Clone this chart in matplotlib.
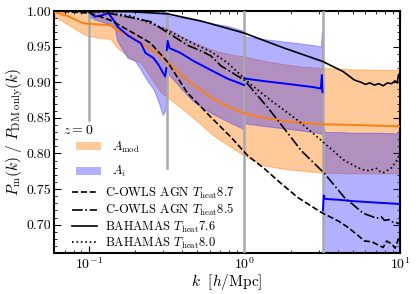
import numpy as np
import matplotlib
matplotlib.use("Agg")
import matplotlib.pyplot as plt
from matplotlib.patches import Patch
from matplotlib.lines import Line2D
from matplotlib.ticker import FormatStrFormatter, MultipleLocator

plt.rcParams['font.family'] = 'serif'
plt.rcParams['font.serif'] = ['cmr10']
plt.rcParams['mathtext.fontset'] = 'cm'
plt.rcParams['axes.formatter.use_mathtext'] = True
plt.rcParams['axes.linewidth'] = 1.5

# --- A_mod band (orange), continuous in k
k_mod = [0.06, 0.075, 0.092, 0.1, 0.119, 0.138, 0.152, 0.175, 0.194, 0.216, 0.25, 0.29,
         0.32, 0.372, 0.43, 0.526, 0.61, 0.71, 0.82, 1.0, 1.34, 1.72, 2.3, 3.2, 5.0, 10.0]
mod_mid = [0.999, 0.992, 0.983, 0.982, 0.981, 0.980, 0.973, 0.967, 0.962, 0.956, 0.946, 0.938,
           0.929, 0.915, 0.903, 0.889, 0.879, 0.870, 0.864, 0.856, 0.850, 0.846, 0.843, 0.841, 0.840, 0.838]
mod_lo = [0.993, 0.980, 0.968, 0.965, 0.962, 0.961, 0.949, 0.938, 0.931, 0.928, 0.907, 0.886,
          0.879, 0.868, 0.857, 0.841, 0.828, 0.818, 0.809, 0.797, 0.783, 0.779, 0.776, 0.773, 0.772, 0.772]
mod_hi = [1.0, 1.0, 1.0, 1.0, 0.999, 0.998, 0.995, 0.992, 0.990, 0.987, 0.982, 0.978,
          0.976, 0.968, 0.960, 0.952, 0.946, 0.942, 0.939, 0.936, 0.930, 0.926, 0.922, 0.920, 0.918, 0.917]

# --- A_i band (blue), one piece per k-bin
kA = [0.100, 0.110, 0.122, 0.134, 0.147, 0.153, 0.178, 0.197, 0.216, 0.232, 0.261, 0.282, 0.299, 0.310, 0.316]
A_mid = [0.999, 0.992, 0.994, 0.997, 0.985, 0.978, 0.966, 0.960, 0.955, 0.941, 0.934, 0.924, 0.914, 0.908, 0.920]
A_lo = [0.993, 0.988, 0.985, 0.982, 0.976, 0.958, 0.934, 0.931, 0.918, 0.906, 0.890, 0.872, 0.854, 0.860, 0.873]
A_hi = [1.005] * len(kA)

kB = [0.318, 0.322, 0.33, 0.39, 0.47, 0.61, 0.78, 1.0]
B_mid = [0.945, 0.958, 0.948, 0.941, 0.930, 0.917, 0.905, 0.896]
B_lo = [0.916, 0.914, 0.910, 0.892, 0.873, 0.857, 0.845, 0.834]
B_hi = [0.995, 0.994, 0.993, 0.991, 0.988, 0.983, 0.979, 0.972]

kC = [1.0, 1.02, 1.4, 2.0, 2.8, 3.1, 3.15, 3.18]
C_mid = [0.906, 0.905, 0.901, 0.897, 0.893, 0.891, 0.910, 0.886]
C_lo = [0.842, 0.842, 0.838, 0.834, 0.830, 0.828, 0.830, 0.826]
C_hi = [0.965, 0.964, 0.960, 0.956, 0.952, 0.950, 0.972, 0.950]

kD = [3.2, 3.24, 3.28, 3.35, 4.0, 5.0, 7.0, 10.0]
D_mid = [0.720, 0.741, 0.737, 0.736, 0.735, 0.733, 0.731, 0.729]
D_lo = [0.60] * len(kD)
D_hi = [0.828, 0.836, 0.830, 0.830, 0.830, 0.829, 0.829, 0.828]

# --- simulations
k_c87 = [0.06, 0.1026, 0.138, 0.194, 0.25, 0.32, 0.431, 0.61, 0.82, 1.05, 1.34, 1.72, 2.21, 3.13,
         3.63, 4.1, 4.64, 5.3, 5.92, 6.6, 7.29, 7.8, 8.21, 8.84, 9.3, 9.77, 10.0]
p_c87 = [1.0, 0.997, 0.987, 0.969, 0.955, 0.929, 0.885, 0.851, 0.823, 0.797, 0.779, 0.758, 0.738, 0.717,
         0.710, 0.704, 0.696, 0.686, 0.677, 0.676, 0.671, 0.668, 0.677, 0.673, 0.667, 0.680, 0.672]
k_c85 = [0.06, 0.119, 0.197, 0.25, 0.32, 0.431, 0.526, 0.61, 0.708, 1.0, 1.42, 1.91, 2.32, 3.27,
         4.4, 5.0, 5.8, 6.5, 7.08, 7.6, 7.94, 8.5, 8.84, 9.4, 10.0]
p_c85 = [1.0, 0.999, 0.990, 0.985, 0.970, 0.952, 0.944, 0.937, 0.923, 0.903, 0.864, 0.828, 0.804, 0.772,
         0.738, 0.728, 0.716, 0.712, 0.709, 0.711, 0.706, 0.707, 0.704, 0.703, 0.701]
k_b76 = [0.06, 0.1, 0.186, 0.32, 0.526, 1.0, 1.8, 3.2, 4.31, 5.1, 5.6, 6.0, 6.4, 6.87, 7.3, 7.8,
         8.3, 8.84, 9.3, 9.6, 9.81, 10.0]
p_b76 = [1.0, 0.9995, 0.999, 0.996, 0.986, 0.969, 0.948, 0.929, 0.915, 0.903, 0.900, 0.897, 0.899,
         0.896, 0.898, 0.895, 0.899, 0.898, 0.902, 0.899, 0.911, 0.906]
k_b80 = [0.06, 0.119, 0.186, 0.25, 0.32, 0.474, 0.61, 0.782, 1.10, 1.49, 2.22, 3.13, 4.40, 5.26,
         5.8, 6.28, 7.08, 7.5, 7.85, 8.4, 8.84, 9.51, 10.0]
p_b80 = [1.0, 0.999, 0.993, 0.983, 0.973, 0.954, 0.943, 0.927, 0.897, 0.874, 0.846, 0.818, 0.790, 0.781,
         0.777, 0.776, 0.779, 0.774, 0.773, 0.777, 0.780, 0.790, 0.800]

k_edges = [0.1, 0.318, 1.0, 3.2]
edge_ymin = [0.55, 0.35, 0.0, 0.0]   # first two lines stop above the legend

orange = '#ff7f0e'
fig = plt.figure(figsize=(4.16, 2.94), dpi=100)
ax = fig.add_axes([0.130, 0.139, 0.8315, 0.8236])

ax.fill_between(k_mod, mod_lo, mod_hi, color=orange, alpha=0.42, lw=0.8, zorder=1)
ax.plot(k_mod, mod_mid, color=orange, lw=1.4, zorder=4)

for kk, lo, hi, mid in [(kA, A_lo, A_hi, A_mid), (kB, B_lo, B_hi, B_mid),
                        (kC, C_lo, C_hi, C_mid), (kD, D_lo, D_hi, D_mid)]:
    ax.fill_between(kk, lo, hi, color='#3333ff', alpha=0.38, lw=0.8, zorder=2)
    ax.plot(kk, mid, color='#0000ff', lw=1.4, zorder=4)

for ke, ym in zip(k_edges, edge_ymin):
    ax.axvline(ke, ymin=ym, color='#aaaaaa', lw=1.8, zorder=3)

ax.plot(k_c87, p_c87, 'k--', lw=1.2, zorder=5)
ax.plot(k_c85, p_c85, 'k-.', lw=1.2, zorder=5)
ax.plot(k_b76, p_b76, 'k-', lw=1.2, zorder=5)
ax.plot(k_b80, p_b80, 'k:', lw=1.2, zorder=5)

ax.set_xscale('log')
ax.set_xlim(0.06, 10)
ax.set_ylim(0.66, 1.0)
ax.yaxis.set_major_locator(MultipleLocator(0.05))
ax.yaxis.set_minor_locator(MultipleLocator(0.01))
ax.yaxis.set_major_formatter(FormatStrFormatter('%.2f'))
ax.tick_params(which='both', direction='in', top=True, right=True, labelsize=10, pad=2)
ax.tick_params(which='major', length=5, width=0.8)
ax.tick_params(which='minor', length=2.5, width=0.6)

ax.set_xlabel(r'$k\ \ [h/{\rm Mpc}]$', fontsize=11, labelpad=0)
ax.set_ylabel(r'$P_{\rm m}(k)\ /\ P_{\rm DM\ only}(k)$', fontsize=11, labelpad=1)

ax.text(0.025, 0.505, r'$z=0$', transform=ax.transAxes, fontsize=10, va='center', zorder=7)

h1 = [Patch(facecolor=orange, alpha=0.42, edgecolor='none'),
      Patch(facecolor='#3333ff', alpha=0.38, edgecolor='none')]
leg1 = ax.legend(h1, [r'$A_{\rm mod}$', r'$A_i$'], loc='upper left',
                 bbox_to_anchor=(0.035, 0.51), fontsize=9,
                 frameon=False, labelspacing=0.75, borderpad=0.3, handletextpad=0.9,
                 handleheight=0.6)
ax.add_artist(leg1)

h2 = [Line2D([], [], color='k', ls='--', lw=1.2), Line2D([], [], color='k', ls='-.', lw=1.2),
      Line2D([], [], color='k', ls='-', lw=1.2), Line2D([], [], color='k', ls=':', lw=1.2)]
labels2 = [r'C-OWLS AGN $T_{\rm heat}8.7$', r'C-OWLS AGN $T_{\rm heat}8.5$',
           r'BAHAMAS $T_{\rm heat}7.6$', r'BAHAMAS $T_{\rm heat}8.0$']
leg2 = ax.legend(h2, labels2, loc='lower left', bbox_to_anchor=(0.018, -0.04), fontsize=9,
                 frameon=False, labelspacing=0.1, borderpad=0.45, handletextpad=0.6)

fig.savefig('out.png', dpi=100)
